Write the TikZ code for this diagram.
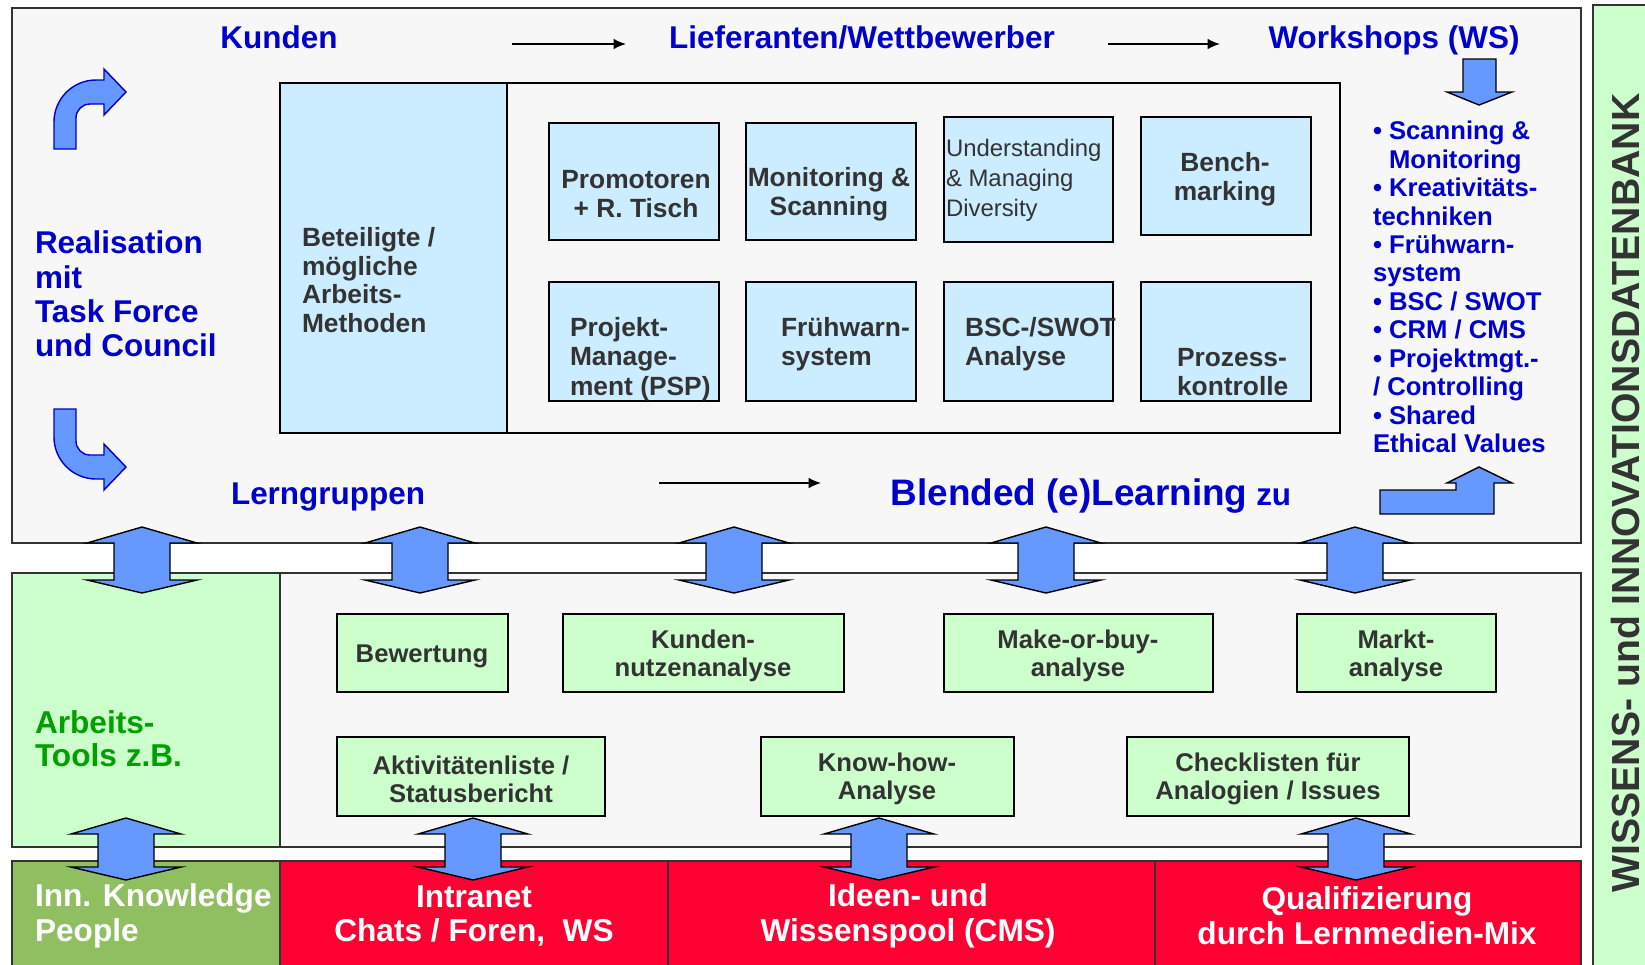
\documentclass[tikz,border=0pt]{standalone}
\usepackage{fontspec}
\setmainfont{Liberation Sans}
\usetikzlibrary{arrows.meta}

\definecolor{titleblue}{HTML}{0000CC}
\definecolor{boxblue}{HTML}{CCECFF}
\definecolor{boxgreen}{HTML}{CCFFCC}
\definecolor{panelgray}{HTML}{F7F7F7}
\definecolor{linegray}{HTML}{333333}
\definecolor{textgray}{HTML}{333333}
\definecolor{arrowblue}{HTML}{6699FF}
\definecolor{bandred}{HTML}{FF0033}
\definecolor{bandgreen}{HTML}{8FBF60}
\definecolor{toolgreen}{HTML}{00A000}

% block arrow with two heads: centre x, top tip y, bottom tip y
\newcommand{\dblarrow}[3]{%
  \draw[bigarrow] (#1,#2) -- ({#1+55},{#2+16}) -- ({#1+28},{#2+16})
    -- ({#1+28},{#3-13}) -- ({#1+55},{#3-13}) -- (#1,#3)
    -- ({#1-55},{#3-13}) -- ({#1-28},{#3-13}) -- ({#1-28},{#2+16})
    -- ({#1-55},{#2+16}) -- cycle;}

\begin{document}
\begin{tikzpicture}[x=0.02cm, y=-0.02cm,
    every node/.style={inner sep=0pt, outer sep=0pt},
    panel/.style={fill=panelgray, draw=linegray, line width=0.9pt},
    title/.style={text=titleblue, font=\bfseries\fontsize{17.9}{19.6}\selectfont, align=left},
    methbox/.style={fill=boxblue, draw=black, line width=0.9pt},
    methtext/.style={text=textgray, font=\bfseries\fontsize{15}{16.7}\selectfont, align=left},
    toolbox/.style={fill=boxgreen, draw=black, line width=0.9pt},
    tooltext/.style={text=textgray, font=\bfseries\fontsize{14.6}{16.1}\selectfont, align=center},
    bandtext/.style={text=white, font=\bfseries\fontsize{18}{19.8}\selectfont, align=center},
    listtext/.style={text=titleblue, font=\bfseries\fontsize{14.6}{16.2}\selectfont, align=left},
    bigarrow/.style={fill=arrowblue, draw=black, line width=0.8pt},
    bendarrow/.style={fill=arrowblue, draw=titleblue, line width=0.8pt},
    flow/.style={-{Latex[length=7pt,width=6pt]}, line width=0.9pt},
  ]
  \useasboundingbox (0,0) rectangle (1645,964);
  \clip (0,0) rectangle (1645,964);

  % top panel
  \draw[panel] (12,8) rectangle (1581,543);
  \node[title, anchor=base] (kunden) at (279,48) {Kunden};
  \node[title, anchor=base] (liefer) at (862,48) {Lieferanten/Wettbewerber};
  \node[title, anchor=base] (ws) at (1394,48) {Workshops (WS)};
  \coordinate (k1) at (512,44);
  \coordinate (k2) at (626,44);
  \coordinate (l1) at (1108,44);
  \coordinate (l2) at (1220,44);
  \draw[flow] (k1) -- (k2);
  \draw[flow] (l1) -- (l2);

  \draw[bendarrow] (54,149) -- (54,122) arc[start angle=180, end angle=270, radius=42]
    -- (104,80) -- (104,69) -- (126,92) -- (104,115) -- (104,104) -- (90,104)
    arc[start angle=270, end angle=180, radius=14] -- (76,149) -- cycle;
  \node[title, anchor=west] (real) at (35,294) {Realisation\\mit\\Task Force\\und Council};
  \draw[bendarrow] (54,409) -- (54,437) arc[start angle=180, end angle=90, radius=42]
    -- (104,479) -- (104,490) -- (126,467) -- (104,444) -- (104,455) -- (90,455)
    arc[start angle=90, end angle=180, radius=14] -- (76,409) -- cycle;

  \node[title, anchor=base] (lern) at (328,504) {Lerngruppen};
  \coordinate (b1) at (659,483);
  \coordinate (b2) at (821,483);
  \draw[flow] (b1) -- (b2);
  \node[title, anchor=base] (blended) at (1091,505)
    {{\fontsize{21}{23}\selectfont Blended (e)Learning} zu};

  % methods
  \draw[fill=panelgray, draw=black, line width=1.1pt] (280,83) rectangle (1340,433);
  \draw[fill=boxblue, draw=black, line width=1.1pt] (280,83) rectangle (507,433);
  \node[methtext, anchor=west, font=\bfseries\fontsize{15}{16.4}\selectfont] (betei) at (302,280)
    {Beteiligte /\\mögliche\\Arbeits-\\Methoden};

  \draw[methbox] (549,123) rectangle (719,240);
  \draw[methbox] (746,123) rectangle (916,240);
  \draw[methbox] (944,117) rectangle (1113,242);
  \draw[methbox] (1141,117) rectangle (1311,235);
  \draw[methbox] (549,282) rectangle (719,401);
  \draw[methbox] (746,282) rectangle (916,401);
  \draw[methbox] (944,282) rectangle (1113,401);
  \draw[methbox] (1141,282) rectangle (1311,401);

  \node[methtext, align=center] (promo) at (636,194) {Promotoren\\+ R. Tisch};
  \node[methtext, align=center] (monit) at (829,194) {Monitoring \&\\Scanning};
  \node[methtext, anchor=west, font=\fontsize{13.6}{17}\selectfont] (divers) at (946,180)
    {Understanding\\\& Managing\\Diversity};
  \node[methtext, align=center] (bench) at (1225,179) {Bench-\\marking};
  \node[methtext, anchor=west] (projekt) at (570,359) {Projekt-\\Manage-\\ment (PSP)};
  \node[methtext, anchor=west] (fruehw) at (781,344) {Frühwarn-\\system};
  \node[methtext, anchor=west] (bsc) at (965,344) {BSC-/SWOT\\Analyse};
  \node[methtext, anchor=west] (prozess) at (1177,372) {Prozess-\\kontrolle};

  \draw[bigarrow] (1463,59) -- (1496,59) -- (1496,92) -- (1512,92) -- (1479,105)
    -- (1447,92) -- (1463,92) -- cycle;
  \node[listtext, anchor=west] (liste) at (1373,287)
    {• Scanning \&\\\hphantom{•\ }Monitoring\\• Kreativitäts-\\techniken\\• Frühwarn-\\system\\%
     • BSC / SWOT\\• CRM / CMS\\• Projektmgt.-\\/ Controlling\\• Shared\\Ethical Values};
  \draw[bigarrow] (1380,490) -- (1456,490) -- (1456,483) -- (1447,483) -- (1479,467)
    -- (1512,483) -- (1494,483) -- (1494,514) -- (1380,514) -- cycle;

  % tools
  \draw[panel] (12,573) rectangle (1581,847);
  \draw[fill=boxgreen, draw=linegray, line width=0.9pt] (12,573) rectangle (280,847);
  \node[anchor=west, align=left, text=toolgreen, font=\bfseries\fontsize{18}{18.7}\selectfont]
    (tools) at (35,739) {Arbeits-\\Tools z.B.};

  \draw[toolbox] (337,614) rectangle (508,692);
  \draw[toolbox] (563,614) rectangle (844,692);
  \draw[toolbox] (944,614) rectangle (1213,692);
  \draw[toolbox] (1297,614) rectangle (1496,692);
  \draw[toolbox] (337,737) rectangle (605,816);
  \draw[toolbox] (761,737) rectangle (1014,816);
  \draw[toolbox] (1127,737) rectangle (1409,816);

  \node[tooltext] (bew) at (422,656) {Bewertung};
  \node[tooltext] (nutzen) at (703,656) {Kunden-\\nutzenanalyse};
  \node[tooltext] (make) at (1078,656) {Make-or-buy-\\analyse};
  \node[tooltext] (markt) at (1396,656) {Markt-\\analyse};
  \node[tooltext] (akt) at (471,779) {Aktivitätenliste /\\Statusbericht};
  \node[tooltext] (know) at (887,779) {Know-how-\\Analyse};
  \node[tooltext] (check) at (1268,779) {Checklisten für\\Analogien / Issues};

  % bottom band
  \draw[fill=bandgreen, draw=linegray, line width=0.9pt] (12,861) rectangle (280,970);
  \draw[fill=bandred, draw=linegray, line width=0.9pt] (280,861) rectangle (668,970);
  \draw[fill=bandred, draw=linegray, line width=0.9pt] (668,861) rectangle (1155,970);
  \draw[fill=bandred, draw=linegray, line width=0.9pt] (1155,861) rectangle (1581,970);
  \node[bandtext, anchor=west, align=left] (inn) at (35,916) {Inn. Knowledge\\People};
  \node[bandtext] (intra) at (474,916) {Intranet\\Chats / Foren,\ \ WS};
  \node[bandtext] (ideen) at (908,916) {Ideen- und\\Wissenspool (CMS)};
  \node[bandtext] (quali) at (1367,916) {Qualifizierung\\durch Lernmedien-Mix};

  % database column
  \draw[fill=boxgreen, draw=linegray, line width=0.9pt] (1593,5) rectangle (1660,975);
  \node[rotate=90, text=textgray, font=\bfseries\fontsize{22.3}{24}\selectfont] (wdb)
    at (1625,493) {WISSENS- und INNOVATIONSDATENBANK};

  % links between the layers
  \foreach \ax in {142,420,734,1046,1355}
    \dblarrow{\ax}{527}{593};
  \foreach \ax in {126,473,879,1356}
    \dblarrow{\ax}{818}{880};
\end{tikzpicture}
\end{document}
